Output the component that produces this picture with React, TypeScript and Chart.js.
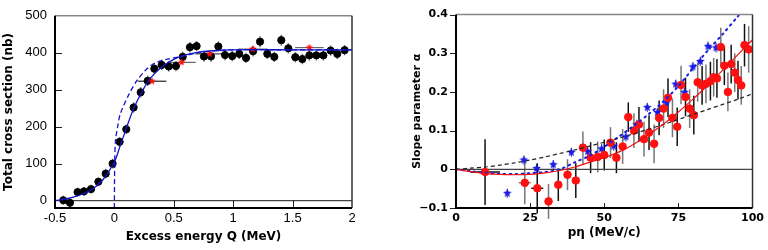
import React, { useEffect, useRef } from 'react';
import { Chart, registerables } from 'chart.js';
Chart.register(...registerables);

// ---------- Left panel: total cross section vs excess energy ----------
const qBlack = [-0.43, -0.374, -0.31, -0.256, -0.197, -0.135, -0.073, -0.015, 0.044, 0.1, 0.162, 0.221, 0.28, 0.336, 0.398, 0.457, 0.518, 0.575, 0.636, 0.692, 0.754, 0.813, 0.875, 0.931, 0.992, 1.051, 1.108, 1.167, 1.226, 1.287, 1.346, 1.405, 1.464, 1.523, 1.582, 1.641, 1.7, 1.759, 1.82, 1.876, 1.938];
const sigBlack = [1, -6, 23, 25, 31, 51, 73, 100, 159, 193, 252, 293, 324, 357, 367, 363, 364, 389, 415, 418, 390, 390, 417, 394, 391, 397, 386, 404, 430, 397, 389, 434, 412, 388, 383, 393, 393, 393, 406, 397, 407];
const sigBlackErr = [12, 12, 12, 12, 12, 12, 13, 13, 13, 13, 14, 14, 14, 14, 14, 14, 14, 14, 14, 14, 14, 14, 14, 14, 14, 14, 14, 14, 15, 14, 14, 15, 14, 14, 14, 14, 14, 14, 14, 14, 14];
const qRed = [0.317, 0.565, 0.802, 1.164, 1.641];
const sigRed = [323, 374, 397, 410, 414];
const qRedErr = [0.12, 0.12, 0.12, 0.12, 0.12];
const qFit = [-0.5, -0.4, -0.3, -0.2, -0.1, 0, 0.05, 0.1, 0.15, 0.2, 0.25, 0.3, 0.4, 0.5, 0.6, 0.7, 0.8, 1.0, 1.5, 2.0];
const sigFit = [0, 5, 14, 28, 55, 105, 150, 195, 240, 275, 305, 330, 362, 382, 394, 401, 405, 408, 408, 408];
const qFit2 = [0, 0, 0.003, 0.01, 0.03, 0.05, 0.12, 0.19, 0.26, 0.34, 0.45, 0.57, 0.7, 0.85, 1.0, 1.5, 2.0];
const sigFit2 = [-20, 0, 110, 165, 205, 235, 286, 325, 352, 372, 383, 390, 400, 405, 408, 408, 408];
const qTicks = [-0.5, 0, 0.5, 1, 1.5, 2];
const qTickLabels = ['-0.5', '0', '0.5', '1', '1.5', '2'];
const sigTicks = [0, 100, 200, 300, 400, 500];

// ---------- Right panel: slope parameter vs p_eta ----------
const pRed = [9.8, 23.2, 27.4, 31.2, 34.5, 37.6, 40.4, 42.8, 45.4, 47.8, 50, 52.1, 54.1, 56.2, 58.1, 60, 61.7, 63.4, 65.1, 66.8, 68.5, 70, 71.5, 73, 74.6, 75.9, 77.4, 78.8, 80.2, 81.5, 83, 84.3, 85.8, 86.9, 88, 89.3, 90.5, 91.7, 92.8, 94, 95.1, 96.2, 97.3, 98.7];
const aRed = [-0.007, -0.035, -0.049, -0.083, -0.04, -0.014, -0.029, 0.056, 0.03, 0.032, 0.037, 0.069, 0.03, 0.059, 0.135, 0.1, 0.116, 0.078, 0.095, 0.066, 0.133, 0.157, 0.185, 0.133, 0.11, 0.218, 0.187, 0.157, 0.14, 0.225, 0.217, 0.221, 0.228, 0.238, 0.235, 0.316, 0.268, 0.2, 0.272, 0.25, 0.231, 0.217, 0.321, 0.31];
const aRedErr = [0.085, 0.055, 0.065, 0.045, 0.042, 0.04, 0.045, 0.042, 0.04, 0.04, 0.04, 0.04, 0.04, 0.045, 0.038, 0.045, 0.045, 0.045, 0.045, 0.05, 0.045, 0.05, 0.05, 0.05, 0.05, 0.05, 0.05, 0.05, 0.05, 0.05, 0.05, 0.05, 0.05, 0.05, 0.05, 0.05, 0.05, 0.05, 0.05, 0.05, 0.05, 0.05, 0.055, 0.06];
const pRedErr = [5, 2, 2, 0, 0, 0, 0, 0, 0, 0, 0, 0, 0, 0, 0, 0, 0, 0, 0, 0, 0, 0, 0, 0, 0, 0, 0, 0, 0, 0, 0, 0, 0, 0, 0, 0, 0, 0, 0, 0, 0, 0, 0, 0];
const pBlue = [17.3, 22.9, 27.2, 32.8, 38.9, 44.4, 49.1, 53.2, 57.3, 61, 64.5, 67.9, 71, 74.1, 77.1, 79.9, 82.4, 85, 87.7];
const aBlue = [-0.062, 0.024, 0.002, 0.012, 0.044, 0.046, 0.053, 0.06, 0.084, 0.116, 0.16, 0.147, 0.172, 0.22, 0.199, 0.265, 0.279, 0.318, 0.314];
const aBlueErr = [0.012, 0.012, 0.012, 0.012, 0.012, 0.012, 0.012, 0.012, 0.012, 0.012, 0.012, 0.012, 0.012, 0.012, 0.012, 0.012, 0.012, 0.012, 0.012];
const pCurve = [0, 5, 10, 15, 20, 25, 30, 35, 40, 45, 50, 55, 60, 65, 70, 75, 80, 85, 90, 95, 100];
const aRedCurve = [0, -0.006, -0.011, -0.013, -0.014, -0.013, -0.009, -0.003, 0.006, 0.018, 0.03, 0.045, 0.065, 0.09, 0.117, 0.148, 0.182, 0.218, 0.257, 0.296, 0.335];
const aDashCurve = [0, 0.003, 0.006, 0.011, 0.017, 0.024, 0.032, 0.041, 0.05, 0.06, 0.07, 0.081, 0.092, 0.104, 0.116, 0.129, 0.142, 0.155, 0.168, 0.181, 0.195];
const aDotCurve = [0, -0.005, -0.009, -0.012, -0.012, -0.01, -0.007, 0.0, 0.018, 0.035, 0.058, 0.085, 0.113, 0.143, 0.176, 0.215, 0.262, 0.308, 0.35, 0.395, 0.44];
const pTicks = [0, 25, 50, 75, 100];
const aTicks = [-0.1, 0, 0.1, 0.2, 0.3, 0.4];
const aTickLabels = ['\u22120.1', '0', '0.1', '0.2', '0.3', '0.4'];

const zip = (xs: number[], ys: number[]) => xs.map((x, i) => ({ x, y: ys[i] }));

function makeStar(size: number, color: string) {
  const c = document.createElement('canvas');
  c.width = size; c.height = size;
  const g = c.getContext('2d')!;
  g.fillStyle = color;
  g.beginPath();
  for (let i = 0; i < 10; i++) {
    const r = i % 2 === 0 ? size / 2 : size / 4.4;
    const ang = -Math.PI / 2 + (i * Math.PI) / 5;
    g.lineTo(size / 2 + r * Math.cos(ang), size / 2 + r * Math.sin(ang));
  }
  g.closePath();
  g.fill();
  return c;
}

const errorBarPlugin = {
  id: 'errbars',
  beforeDatasetsDraw(chart: any) {
    const { ctx, scales } = chart;
    const xs = scales.x, ys = scales.y;
    ctx.save();
    chart.data.datasets.forEach((ds: any) => {
      if (!ds.errY && !ds.errX) return;
      ds.data.forEach((pt: any, j: number) => {
        const px = xs.getPixelForValue(pt.x);
        const py = ys.getPixelForValue(pt.y);
        const col = Array.isArray(ds.errColor) ? ds.errColor[j % ds.errColor.length] : ds.errColor;
        ctx.strokeStyle = col;
        ctx.lineWidth = ds.errWidth || 1.5;
        ctx.beginPath();
        if (ds.errY && ds.errY[j]) {
          ctx.moveTo(px, ys.getPixelForValue(pt.y - ds.errY[j]));
          ctx.lineTo(px, ys.getPixelForValue(pt.y + ds.errY[j]));
        }
        if (ds.errX && ds.errX[j]) {
          ctx.moveTo(xs.getPixelForValue(pt.x - ds.errX[j]), py);
          ctx.lineTo(xs.getPixelForValue(pt.x + ds.errX[j]), py);
        }
        ctx.stroke();
      });
    });
    ctx.restore();
  },
};

const framePlugin = {
  id: 'frame',
  beforeDatasetsDraw(chart: any, _a: any, opts: any) {
    const { ctx, chartArea: a, scales } = chart;
    const xs = scales.x, ys = scales.y;
    ctx.save();
    const y0 = ys.getPixelForValue(0);
    ctx.strokeStyle = opts.zeroColor || '#333';
    ctx.lineWidth = 1.3;
    ctx.beginPath();
    ctx.moveTo(a.left, y0); ctx.lineTo(a.right, y0);
    ctx.stroke();
    ctx.strokeStyle = '#222';
    ctx.lineWidth = 1;
    ctx.beginPath();
    (opts.xInner || []).forEach((v: number) => {
      const px = Math.round(xs.getPixelForValue(v)) + 0.5;
      ctx.moveTo(px, a.bottom); ctx.lineTo(px, a.bottom - opts.xInnerLen);
    });
    (opts.yInner || []).forEach((v: number) => {
      const py = Math.round(ys.getPixelForValue(v)) + 0.5;
      ctx.moveTo(a.left, py); ctx.lineTo(a.left + opts.yInnerLen, py);
    });
    (opts.yOuter || []).forEach((v: number) => {
      const py = Math.round(ys.getPixelForValue(v)) + 0.5;
      ctx.moveTo(a.left, py); ctx.lineTo(a.left - opts.yOuterLen, py);
    });
    ctx.stroke();
    ctx.restore();
  },
  afterDatasetsDraw(chart: any) {
    const { ctx, chartArea: a } = chart;
    ctx.save();
    ctx.lineWidth = 1.5;
    ctx.strokeStyle = '#888';
    ctx.beginPath();
    ctx.moveTo(a.left, a.top); ctx.lineTo(a.right, a.top);
    ctx.stroke();
    ctx.strokeStyle = '#333';
    ctx.beginPath();
    ctx.moveTo(a.right, a.top); ctx.lineTo(a.right, a.bottom);
    ctx.stroke();
    ctx.strokeStyle = '#000';
    ctx.lineWidth = 2;
    ctx.beginPath();
    ctx.moveTo(a.left, a.top); ctx.lineTo(a.left, a.bottom); ctx.lineTo(a.right, a.bottom);
    ctx.stroke();
    ctx.restore();
  },
};

const titleFont = { family: 'DejaVu Sans', size: 12, weight: 'bold' as const };
const noGrid = { display: false, drawTicks: false, tickLength: 0 };

function LeftChart() {
  const ref = useRef<HTMLCanvasElement>(null);
  useEffect(() => {
    const redStar = makeStar(8, '#ff1010');
    const chart = new Chart(ref.current!, {
      type: 'scatter',
      data: {
        datasets: [
          { type: 'line', data: zip(qFit, sigFit), borderColor: '#1414c8', borderWidth: 1.3, pointRadius: 0, fill: false, tension: 0.3 } as any,
          { type: 'line', data: zip(qFit2, sigFit2), borderColor: '#1414c8', borderWidth: 1.3, borderDash: [5, 3], pointRadius: 0, fill: false, tension: 0.3 } as any,
          { data: zip(qRed, sigRed), pointStyle: redStar, pointRadius: 4, errX: qRedErr, errColor: ['#222', '#666', '#444', '#777', '#666'], errWidth: 1.2 } as any,
          { data: zip(qBlack, sigBlack), backgroundColor: '#000', borderColor: '#000', pointRadius: 3.6, errY: sigBlackErr, errColor: '#777', errWidth: 1.5 } as any,
        ],
      },
      options: {
        animation: false,
        responsive: false,
        devicePixelRatio: 1,
        layout: { padding: { top: 10, right: 32, left: 0, bottom: 0 } },
        plugins: {
          legend: { display: false },
          tooltip: { enabled: false },
          frame: { xInner: [0.5, 1, 1.5], xInnerLen: 8, yInner: [100, 200, 300, 400], yInnerLen: 7, zeroColor: '#444' },
        } as any,
        scales: {
          x: {
            type: 'linear', min: -0.5, max: 2,
            afterFit: (s: any) => { s.height = 42; },
            afterBuildTicks: (s: any) => { s.ticks = qTicks.map((v) => ({ value: v })); },
            grid: noGrid, border: { display: false },
            ticks: { padding: 3, color: '#000', font: { family: 'Liberation Sans', size: 13 }, callback: (v: any) => qTickLabels[qTicks.indexOf(Number(v))] ?? '', maxRotation: 0 },
            title: { display: true, text: 'Excess energy Q (MeV)', color: '#000', font: titleFont, padding: { top: 0, bottom: 6 } },
          },
          y: {
            type: 'linear', min: -20, max: 500,
            afterFit: (s: any) => { s.width = 55; },
            afterBuildTicks: (s: any) => { s.ticks = sigTicks.map((v) => ({ value: v })); },
            grid: noGrid, border: { display: false },
            ticks: { padding: 8, color: '#000', font: { family: 'Liberation Sans', size: 13 } },
            title: { display: true, text: 'Total cross section (nb)', color: '#000', font: titleFont, padding: { top: 2, bottom: 0 } },
          },
        },
      },
      plugins: [errorBarPlugin, framePlugin],
    });
    return () => chart.destroy();
  }, []);
  return <canvas ref={ref} width={384} height={250} />;
}

function RightChart() {
  const ref = useRef<HTMLCanvasElement>(null);
  useEffect(() => {
    const blueStar = makeStar(9, '#1a1ae6');
    const chart = new Chart(ref.current!, {
      type: 'scatter',
      data: {
        datasets: [
          { type: 'line', data: zip(pCurve, aRedCurve), borderColor: '#ee1111', borderWidth: 1.2, pointRadius: 0, fill: false, tension: 0.3 } as any,
          { type: 'line', data: zip(pCurve, aDashCurve), borderColor: '#222', borderWidth: 1.2, borderDash: [4, 3], pointRadius: 0, fill: false, tension: 0.3 } as any,
          { type: 'line', data: zip(pCurve, aDotCurve), borderColor: '#1a1ae6', borderWidth: 2, borderDash: [1.5, 4.5], borderCapStyle: 'round', pointRadius: 0, fill: false, tension: 0.3 } as any,
          { data: zip(pRed, aRed), backgroundColor: '#ff1111', borderColor: '#ff1111', pointRadius: 3.8, errY: aRedErr, errX: pRedErr, errColor: ['#111', '#777'], errWidth: 1.5 } as any,
          { data: zip(pBlue, aBlue), pointStyle: blueStar, pointRadius: 4.5, errY: aBlueErr, errColor: '#3a3aa0', errWidth: 1 } as any,
        ],
      },
      options: {
        animation: false,
        responsive: false,
        devicePixelRatio: 1,
        layout: { padding: { top: 10, right: 14, left: 25, bottom: 0 } },
        plugins: {
          legend: { display: false },
          tooltip: { enabled: false },
          frame: { xInner: [25, 50, 75], xInnerLen: 5, yOuter: [-0.1, 0, 0.1, 0.2, 0.3, 0.4], yOuterLen: 6, zeroColor: '#444' },
        } as any,
        scales: {
          x: {
            type: 'linear', min: 0, max: 100,
            afterFit: (s: any) => { s.height = 42; },
            afterBuildTicks: (s: any) => { s.ticks = pTicks.map((v) => ({ value: v })); },
            grid: noGrid, border: { display: false },
            ticks: { padding: 4, color: '#000', font: { family: 'DejaVu Sans', size: 11, weight: 'bold' }, maxRotation: 0 },
            title: { display: true, text: 'p\u03b7 (MeV/c)', color: '#000', font: titleFont, padding: { top: 0, bottom: 10 } },
          },
          y: {
            type: 'linear', min: -0.1, max: 0.4,
            afterFit: (s: any) => { s.width = 47; },
            afterBuildTicks: (s: any) => { s.ticks = aTicks.map((v) => ({ value: v })); },
            grid: noGrid, border: { display: false },
            ticks: { padding: 8, color: '#000', font: { family: 'DejaVu Sans', size: 11, weight: 'bold' }, callback: (v: any) => aTickLabels[aTicks.findIndex((t) => Math.abs(t - Number(v)) < 1e-9)] ?? '' },
            title: { display: true, text: 'Slope parameter \u03b1', color: '#000', font: { family: 'DejaVu Sans', size: 11, weight: 'bold' }, padding: { top: 2, bottom: 0 } },
          },
        },
      },
      plugins: [errorBarPlugin, framePlugin],
    });
    return () => chart.destroy();
  }, []);
  return <canvas ref={ref} width={384} height={250} />;
}

export default function App() {
  return (
    <div style={{ position: 'absolute', left: 0, top: 0, width: 768, height: 250, background: '#fff', display: 'flex' }}>
      <div style={{ width: 384, height: 250 }}><LeftChart /></div>
      <div style={{ width: 384, height: 250 }}><RightChart /></div>
    </div>
  );
}
